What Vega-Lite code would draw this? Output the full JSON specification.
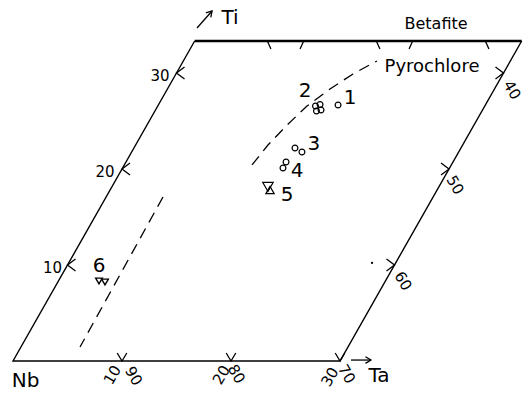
{
  "$schema": "https://vega.github.io/schema/vega-lite/v6.json",
  "width": 528,
  "height": 393,
  "padding": 0,
  "autosize": {"type": "fit", "contains": "padding"},
  "background": "white",
  "config": {"view": {"stroke": null}, "text": {"font": "DejaVu Sans", "color": "black"}},
  "datasets": {
    "lines": [
      {"seg": "frame", "o": 1, "x": 16.667, "y": 33.333},
      {"seg": "frame", "o": 2, "x": 0, "y": 0},
      {"seg": "frame", "o": 3, "x": 30, "y": 0},
      {"seg": "frame", "o": 4, "x": 46.667, "y": 33.333},
      {"seg": "top", "o": 1, "x": 16.667, "y": 33.333},
      {"seg": "top", "o": 2, "x": 46.667, "y": 33.333},
      {"seg": "curve", "o": 1, "x": 21.93, "y": 20.42},
      {"seg": "curve", "o": 2, "x": 23.39, "y": 22.5},
      {"seg": "curve", "o": 3, "x": 25.14, "y": 24.58},
      {"seg": "curve", "o": 4, "x": 26.97, "y": 26.56},
      {"seg": "curve", "o": 5, "x": 29.08, "y": 28.33},
      {"seg": "curve", "o": 6, "x": 31.19, "y": 29.9},
      {"seg": "curve", "o": 7, "x": 33.39, "y": 31.25},
      {"seg": "line6", "o": 1, "x": 13.76, "y": 17.08},
      {"seg": "line6", "o": 2, "x": 6.15, "y": 1.46},
      {"seg": "tiArrow", "o": 1, "x": 16.88, "y": 34.69},
      {"seg": "tiArrow", "o": 2, "x": 18.26, "y": 36.46},
      {"seg": "taArrow", "o": 1, "x": 31.01, "y": 0.1},
      {"seg": "taArrow", "o": 2, "x": 32.84, "y": 0.1}
    ],
    "ticks": [
      {"kind": "left", "x": 5, "y": 10},
      {"kind": "left", "x": 10, "y": 20},
      {"kind": "left", "x": 15, "y": 30},
      {"kind": "bottom", "x": 10, "y": 0},
      {"kind": "bottom", "x": 20, "y": 0},
      {"kind": "bottom", "x": 30, "y": 0},
      {"kind": "right", "x": 35, "y": 10},
      {"kind": "right", "x": 40, "y": 20},
      {"kind": "right", "x": 45, "y": 30},
      {"kind": "topTa", "x": 26.667, "y": 33.333},
      {"kind": "topTa", "x": 36.667, "y": 33.333},
      {"kind": "topNb", "x": 23.333, "y": 33.333},
      {"kind": "topNb", "x": 33.333, "y": 33.333},
      {"kind": "topNb", "x": 43.333, "y": 33.333}
    ],
    "heads": [
      {"arrow": "Ti", "x": 18.26, "y": 36.46},
      {"arrow": "Ta", "x": 32.84, "y": 0.1}
    ],
    "samples": [
      {"sample": "1", "symbol": "circle", "x": 29.82, "y": 26.67},
      {"sample": "2", "symbol": "circle", "x": 27.75, "y": 26.56},
      {"sample": "2", "symbol": "circle", "x": 28.17, "y": 26.72},
      {"sample": "2", "symbol": "circle", "x": 27.84, "y": 26.04},
      {"sample": "2", "symbol": "circle", "x": 28.26, "y": 26.15},
      {"sample": "3", "symbol": "circle", "x": 25.87, "y": 22.19},
      {"sample": "3", "symbol": "circle", "x": 26.51, "y": 21.77},
      {"sample": "4", "symbol": "circle", "x": 25.05, "y": 20.73},
      {"sample": "4", "symbol": "circle", "x": 24.77, "y": 20.1},
      {"sample": "5", "symbol": "down", "x": 23.39, "y": 18.13},
      {"sample": "5", "symbol": "up", "x": 23.58, "y": 17.81},
      {"sample": "6", "symbol": "down6", "x": 7.89, "y": 8.33},
      {"sample": "6", "symbol": "down6", "x": 8.44, "y": 8.23},
      {"sample": "dot", "symbol": "dot", "x": 32.94, "y": 10.21}
    ],
    "labels": [
      {"style": "big", "t": "1", "x": 30.92, "y": 27.55},
      {"style": "big", "t": "2", "x": 26.79, "y": 28.18},
      {"style": "big", "t": "3", "x": 27.61, "y": 22.71},
      {"style": "big", "t": "4", "x": 26.06, "y": 19.9},
      {"style": "big", "t": "5", "x": 25.14, "y": 17.4},
      {"style": "big", "t": "6", "x": 7.89, "y": 10.0},
      {"style": "big", "t": "Nb", "x": 1.15, "y": -2.03},
      {"style": "big", "t": "Ta", "x": 33.58, "y": -1.46},
      {"style": "big", "t": "Ti", "x": 19.91, "y": 35.83},
      {"style": "betafite", "t": "Betafite", "x": 38.81, "y": 35.26},
      {"style": "pyro", "t": "Pyrochlore", "x": 38.44, "y": 30.73},
      {"style": "flat", "t": "30", "x": 13.49, "y": 29.74},
      {"style": "flat", "t": "20", "x": 8.44, "y": 19.74},
      {"style": "flat", "t": "10", "x": 3.62, "y": 9.79},
      {"style": "up", "t": "10", "x": 9.13, "y": -1.46},
      {"style": "up", "t": "20", "x": 19.13, "y": -1.46},
      {"style": "up", "t": "30", "x": 29.08, "y": -1.67},
      {"style": "down", "t": "90", "x": 11.06, "y": -1.56},
      {"style": "down", "t": "80", "x": 20.5, "y": -1.35},
      {"style": "down", "t": "70", "x": 30.6, "y": -1.35},
      {"style": "down", "t": "40", "x": 45.78, "y": 28.23},
      {"style": "down", "t": "50", "x": 40.55, "y": 18.33},
      {"style": "down", "t": "60", "x": 35.78, "y": 8.33}
    ]
  },
  "encoding": {
    "x": {"field": "x", "type": "quantitative", "scale": {"domain": [-1.193, 47.248], "nice": false, "zero": false}, "axis": null},
    "y": {"field": "y", "type": "quantitative", "scale": {"domain": [-3.333, 37.604], "nice": false, "zero": false}, "axis": null}
  },
  "layer": [
    {
      "data": {"name": "lines"},
      "transform": [{"filter": "datum.seg === 'frame'"}],
      "mark": {"type": "line", "stroke": "black", "strokeWidth": 1.4, "strokeJoin": "miter"},
      "encoding": {"order": {"field": "o", "type": "quantitative"}}
    },
    {
      "data": {"name": "lines"},
      "transform": [{"filter": "datum.seg === 'top'"}],
      "mark": {"type": "line", "stroke": "black", "strokeWidth": 2.6},
      "encoding": {"order": {"field": "o", "type": "quantitative"}}
    },
    {
      "data": {"name": "lines"},
      "transform": [{"filter": "datum.seg === 'curve' || datum.seg === 'line6'"}],
      "mark": {"type": "line", "stroke": "black", "strokeWidth": 1.3, "strokeDash": [11, 7]},
      "encoding": {"order": {"field": "o", "type": "quantitative"}, "detail": {"field": "seg", "type": "nominal"}}
    },
    {
      "data": {"name": "lines"},
      "transform": [{"filter": "datum.seg === 'tiArrow' || datum.seg === 'taArrow'"}],
      "mark": {"type": "line", "stroke": "black", "strokeWidth": 1.3},
      "encoding": {"order": {"field": "o", "type": "quantitative"}, "detail": {"field": "seg", "type": "nominal"}}
    },
    {
      "data": {"name": "ticks"},
      "mark": {"type": "point", "filled": false, "stroke": "black", "strokeWidth": 1.3, "size": 256, "opacity": 1},
      "encoding": {
        "shape": {
          "field": "kind", "type": "nominal", "legend": null,
          "scale": {
            "domain": ["left", "bottom", "right", "topTa", "topNb"],
            "range": ["M1,-0.75L0,0L1,0.75", "M-0.6,-1L0,0L0.6,-1", "M-1,-0.75L0,0L-1,0.75", "M0,0L-0.45,1", "M0,0L0.45,1"]
          }
        }
      }
    },
    {
      "data": {"name": "heads"},
      "transform": [{"filter": "datum.arrow === 'Ti'"}],
      "mark": {"type": "point", "shape": "M-1,-0.6L0,0L-1,0.6", "angle": -48, "filled": false, "stroke": "black", "strokeWidth": 1.3, "size": 120, "opacity": 1}
    },
    {
      "data": {"name": "heads"},
      "transform": [{"filter": "datum.arrow === 'Ta'"}],
      "mark": {"type": "point", "shape": "M-1,-0.6L0,0L-1,0.6", "angle": 0, "filled": false, "stroke": "black", "strokeWidth": 1.3, "size": 120, "opacity": 1}
    },
    {
      "data": {"name": "samples"},
      "transform": [{"filter": "datum.symbol === 'circle'"}],
      "mark": {"type": "point", "shape": "circle", "filled": false, "stroke": "black", "strokeWidth": 1.2, "size": 34, "opacity": 1}
    },
    {
      "data": {"name": "samples"},
      "transform": [{"filter": "datum.symbol === 'down'"}],
      "mark": {"type": "point", "shape": "triangle-down", "filled": false, "stroke": "black", "strokeWidth": 1.2, "size": 110, "opacity": 1}
    },
    {
      "data": {"name": "samples"},
      "transform": [{"filter": "datum.symbol === 'up'"}],
      "mark": {"type": "point", "shape": "triangle-up", "filled": false, "stroke": "black", "strokeWidth": 1.2, "size": 70, "opacity": 1}
    },
    {
      "data": {"name": "samples"},
      "transform": [{"filter": "datum.symbol === 'down6'"}],
      "mark": {"type": "point", "shape": "triangle-down", "filled": false, "stroke": "black", "strokeWidth": 1.4, "size": 45, "opacity": 1}
    },
    {
      "data": {"name": "samples"},
      "transform": [{"filter": "datum.symbol === 'dot'"}],
      "mark": {"type": "point", "shape": "circle", "filled": true, "color": "black", "size": 5, "opacity": 1}
    },
    {
      "data": {"name": "labels"},
      "transform": [{"filter": "datum.style === 'big'"}],
      "mark": {"type": "text", "fontSize": 20, "align": "center", "baseline": "middle", "dy": 1},
      "encoding": {"text": {"field": "t", "type": "nominal"}}
    },
    {
      "data": {"name": "labels"},
      "transform": [{"filter": "datum.style === 'betafite'"}],
      "mark": {"type": "text", "fontSize": 16, "align": "center", "baseline": "middle", "dy": 1},
      "encoding": {"text": {"field": "t", "type": "nominal"}}
    },
    {
      "data": {"name": "labels"},
      "transform": [{"filter": "datum.style === 'pyro'"}],
      "mark": {"type": "text", "fontSize": 18, "align": "center", "baseline": "middle", "dy": 1},
      "encoding": {"text": {"field": "t", "type": "nominal"}}
    },
    {
      "data": {"name": "labels"},
      "transform": [{"filter": "datum.style === 'flat'"}],
      "mark": {"type": "text", "fontSize": 15, "align": "center", "baseline": "middle", "dy": 1},
      "encoding": {"text": {"field": "t", "type": "nominal"}}
    },
    {
      "data": {"name": "labels"},
      "transform": [{"filter": "datum.style === 'up'"}],
      "mark": {"type": "text", "fontSize": 15, "align": "center", "baseline": "middle", "angle": 300},
      "encoding": {"text": {"field": "t", "type": "nominal"}}
    },
    {
      "data": {"name": "labels"},
      "transform": [{"filter": "datum.style === 'down'"}],
      "mark": {"type": "text", "fontSize": 15, "align": "center", "baseline": "middle", "angle": 60},
      "encoding": {"text": {"field": "t", "type": "nominal"}}
    }
  ]
}
